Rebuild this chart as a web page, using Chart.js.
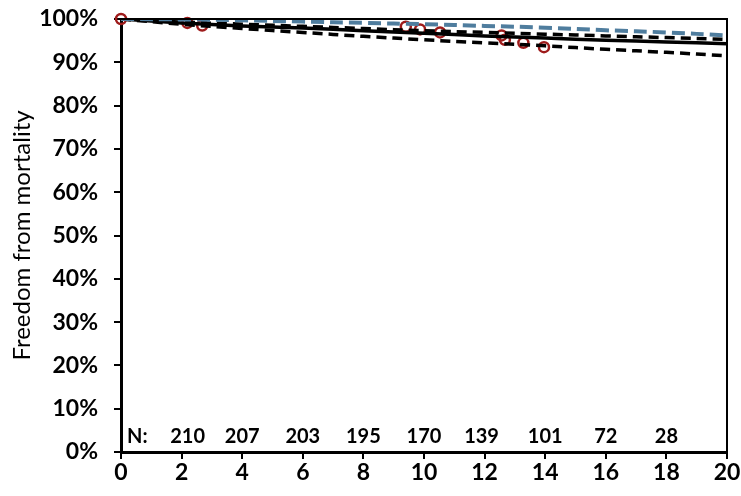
<!DOCTYPE html>
<html>
<head>
<meta charset="utf-8">
<script src="https://cdn.jsdelivr.net/npm/chart.js@4.4.0/dist/chart.umd.min.js"></script>
<style>
html,body{margin:0;padding:0;background:#fff;}
#wrap{width:741px;height:496px;position:relative;}
</style>
</head>
<body>
<div id="wrap"><canvas id="c" width="741" height="496"></canvas></div>
<script>
// Years for curve readings
const years = [0, 2, 4, 6, 8, 10, 12, 14, 16, 18, 20];
// Expected (population) survival, blue dashed
const blueExpected = [100, 99.9, 99.7, 99.4, 99.1, 98.8, 98.4, 98.0, 97.4, 96.9, 96.2];
// Upper confidence bound, black dashed
const upperCI = [100, 99.3, 98.8, 98.3, 97.8, 97.3, 96.9, 96.5, 96.1, 95.7, 95.3];
// Estimated survival, black solid
const estimate = [100, 99.1, 98.4, 97.9, 97.3, 96.7, 96.1, 95.6, 95.1, 94.7, 94.3];
// Lower confidence bound, black dashed
const lowerCI = [100, 98.8, 97.8, 96.9, 96.0, 95.2, 94.5, 93.8, 93.0, 92.3, 91.5];
// Observed events (red open circles)
const eventX = [0, 2.19, 2.68, 9.4, 9.87, 10.53, 12.56, 12.67, 13.28, 13.96];
const eventY = [100, 99.1, 98.5, 98.2, 97.6, 96.9, 96.2, 95.2, 94.5, 93.5];
// Numbers at risk
const nLabelX = [2.2, 4, 6, 8, 10, 11.9, 14, 16, 18];
const nLabels = ["210", "207", "203", "195", "170", "139", "101", "72", "28"];
const nRowY = 3.5;
const xTicks = [0, 2, 4, 6, 8, 10, 12, 14, 16, 18, 20];
const yTicks = [0, 10, 20, 30, 40, 50, 60, 70, 80, 90, 100];

const pts = (xs, ys) => xs.map((x, i) => ({x: x, y: ys[i]}));
const FONT = "Lato, 'Open Sans', sans-serif";

const framePlugin = {
  id: 'frame',
  afterDatasetsDraw(chart) {
    const ctx = chart.ctx, a = chart.chartArea;
    ctx.save();
    ctx.strokeStyle = '#000';
    ctx.lineWidth = 2;
    ctx.beginPath();
    ctx.moveTo(a.left, a.top);
    ctx.lineTo(a.right, a.top);
    ctx.lineTo(a.right, a.bottom);
    ctx.stroke();
    // numbers at risk
    const xs = chart.scales.x, ys = chart.scales.y;
    ctx.fillStyle = '#000';
    ctx.font = "bold 20px " + FONT;
    ctx.textBaseline = 'middle';
    ctx.textAlign = 'left';
    const yy = ys.getPixelForValue(nRowY);
    ctx.fillText("N:", xs.getPixelForValue(0) + 6, yy);
    ctx.textAlign = 'center';
    nLabels.forEach((t, i) => ctx.fillText(t, xs.getPixelForValue(nLabelX[i]), yy));
    ctx.restore();
  }
};

new Chart(document.getElementById('c'), {
  type: 'line',
  data: {
    datasets: [
      {label: 'Expected', data: pts(years, blueExpected), borderColor: '#4f7d9e', borderWidth: 4, borderDash: [13, 6], pointRadius: 0, tension: 0.4, fill: false},
      {label: 'Upper', data: pts(years, upperCI), borderColor: '#000', borderWidth: 3.5, borderDash: [10, 6], pointRadius: 0, tension: 0.4, fill: false},
      {label: 'Estimate', data: pts(years, estimate), borderColor: '#000', borderWidth: 3.5, pointRadius: 0, tension: 0.4, fill: false},
      {label: 'Lower', data: pts(years, lowerCI), borderColor: '#000', borderWidth: 3.5, borderDash: [10, 6], pointRadius: 0, tension: 0.4, fill: false},
      {label: 'Events', data: pts(eventX, eventY), showLine: false, pointRadius: 5, pointBorderWidth: 2.5, pointBorderColor: '#9e1b1b', pointBackgroundColor: 'rgba(0,0,0,0)', pointStyle: 'circle', clip: false}
    ]
  },
  options: {
    responsive: false,
    animation: false,
    events: [],
    layout: {autoPadding: false, padding: {top: 19, right: 14, left: 0, bottom: 0}},
    plugins: {legend: {display: false}, tooltip: {enabled: false}},
    scales: {
      x: {
        type: 'linear', min: 0, max: 20,
        afterBuildTicks(s) { s.ticks = xTicks.map(v => ({value: v})); },
        afterFit(s) { s.height = 44; s.paddingLeft = 0; s.paddingRight = 0; },
        border: {display: true, color: '#000', width: 3},
        grid: {display: true, drawOnChartArea: false, drawTicks: true, tickLength: 7, color: '#000', lineWidth: 2},
        ticks: {color: '#000', font: {family: FONT, size: 23, weight: 'bold'}, padding: 0, maxRotation: 0, autoSkip: false}
      },
      y: {
        min: 0, max: 100,
        afterBuildTicks(s) { s.ticks = yTicks.map(v => ({value: v})); },
        afterFit(s) { s.width = 121; s.paddingTop = 0; s.paddingBottom = 0; },
        border: {display: true, color: '#000', width: 3},
        grid: {display: true, drawOnChartArea: false, drawTicks: true, tickLength: 7, color: '#000', lineWidth: 2},
        ticks: {color: '#000', font: {family: FONT, size: 23, weight: 'bold'}, padding: 16, callback: v => v + '%'},
        title: {display: true, text: 'Freedom from mortality', color: '#000', font: {family: FONT, size: 24, weight: 'normal'}, padding: {top: 8, bottom: 4}}
      }
    }
  },
  plugins: [framePlugin]
});
</script>
</body>
</html>
